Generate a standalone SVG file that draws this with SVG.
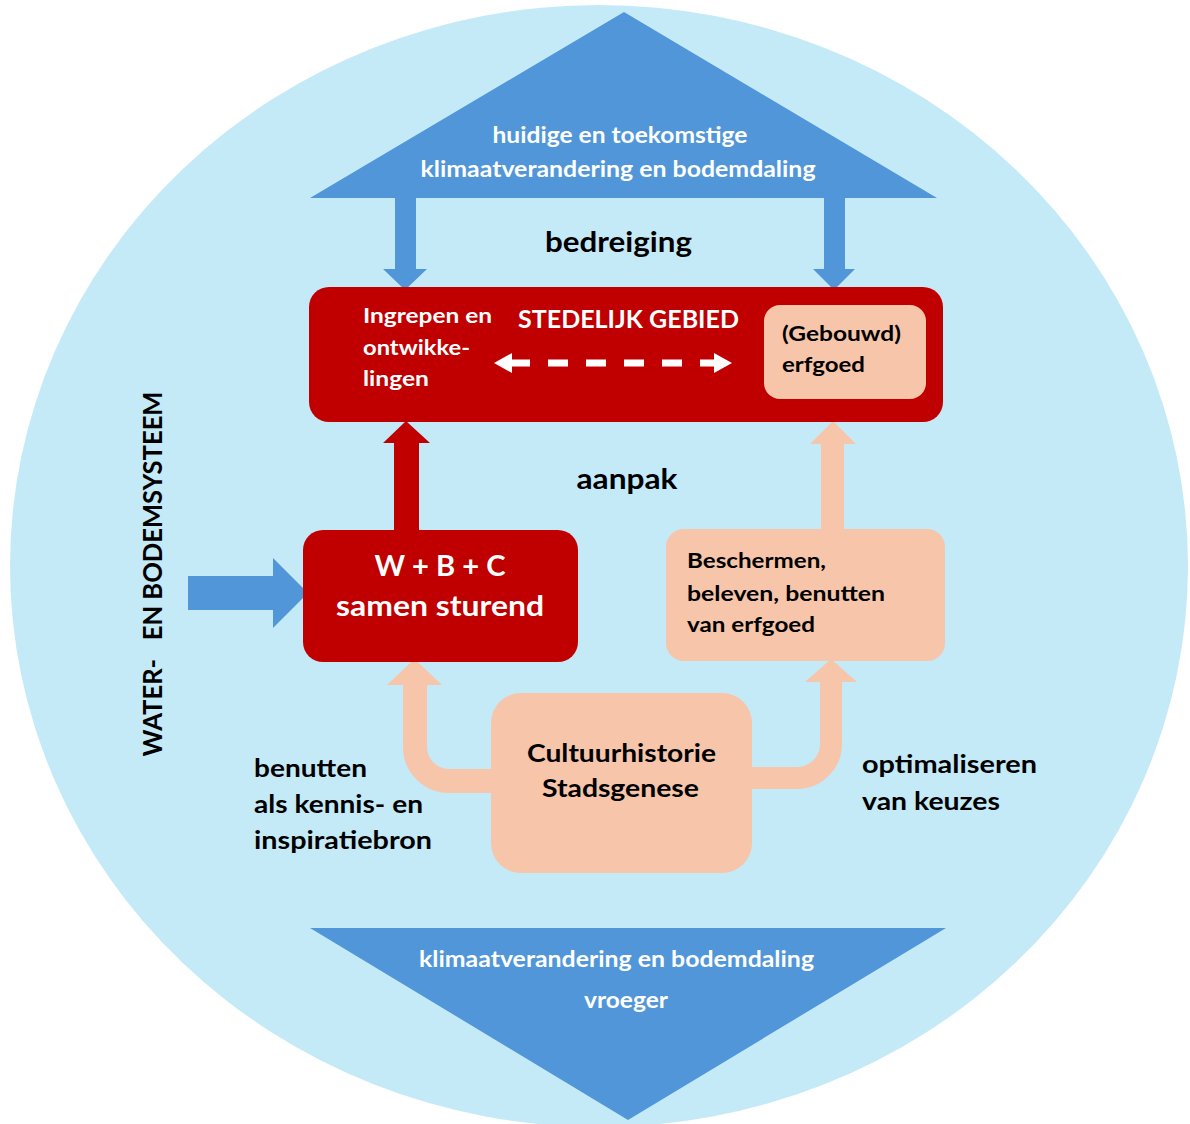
<svg xmlns="http://www.w3.org/2000/svg" width="1190" height="1124" viewBox="0 0 1190 1124">
  <style>
    text { font-family: Lato, "Liberation Sans", Arial, sans-serif; font-weight: bold; }
    .w { fill: #FFFFFF; }
    .k { fill: #000000; }
    .c { text-anchor: middle; }
    .blue { fill: #5096D9; }
    .red { fill: #C00000; }
    .peach { fill: #F6C5AA; }
  </style>
  <rect x="0" y="0" width="1190" height="1124" fill="#FFFFFF"/>
  <g id="background">
    <ellipse cx="599" cy="566" rx="589" ry="561" fill="#C4EAF8"/>
  </g>

  <g id="connectors">
    <!-- blue threat arrows -->
    <polygon class="blue" points="395,196 416,196 416,269 427,269 405,290 383,269 395,269"/>
    <polygon class="blue" points="824,196 845,196 845,269 855,269 834,290 813,269 824,269"/>
    <!-- red up arrow -->
    <polygon class="red" points="394,531 419,531 419,443 430,443 406,421 383,443 394,443"/>
    <!-- peach up arrow right -->
    <polygon class="peach" points="821,531 844,531 844,444 856,444 833,421 810,444 821,444"/>
    <!-- blue right arrow from water system -->
    <polygon class="blue" points="188,576 273,576 273,558 308,593 273,628 273,610 188,610"/>
    <!-- peach elbow arrows from Cultuurhistorie -->
    <path d="M 493 781 H 449 A 34 34 0 0 1 415 747 V 684" fill="none" stroke="#F6C5AA" stroke-width="24"/>
    <polygon class="peach" points="387,685 442,685 414.5,659"/>
    <path d="M 750 778 H 797 A 34 34 0 0 0 831 744 V 681" fill="none" stroke="#F6C5AA" stroke-width="22"/>
    <polygon class="peach" points="805,682 857,682 831,659"/>
  </g>

  <g id="threat-triangle">
    <polygon class="blue" points="310,198 624,12 937,198"/>
    <text class="w c" x="620" y="143" font-size="22" textLength="255" lengthAdjust="spacingAndGlyphs">huidige en toekomstige</text>
    <text class="w c" x="618" y="177" font-size="22" textLength="395" lengthAdjust="spacingAndGlyphs">klimaatverandering en bodemdaling</text>
  </g>

  <g id="label-bedreiging">
    <text class="k c" x="618.5" y="252" font-size="29" textLength="147" lengthAdjust="spacingAndGlyphs">bedreiging</text>
  </g>

  <g id="stedelijk-gebied">
    <rect class="red" x="309" y="287" width="634" height="135" rx="20"/>
    <text class="w" x="363" y="323" font-size="21" textLength="129" lengthAdjust="spacingAndGlyphs">Ingrepen en</text>
    <text class="w" x="363" y="355" font-size="21" textLength="107" lengthAdjust="spacingAndGlyphs">ontwikke-</text>
    <text class="w" x="363" y="386" font-size="21" textLength="66" lengthAdjust="spacingAndGlyphs">lingen</text>
    <text class="w c" x="628.5" y="328" font-size="24" textLength="221" lengthAdjust="spacingAndGlyphs">STEDELIJK GEBIED</text>
    <g id="dashed-double-arrow">
      <line x1="510" y1="363" x2="716" y2="363" stroke="#FFFFFF" stroke-width="7" stroke-dasharray="20 18"/>
      <polygon points="494,363 512,353 512,373" fill="#FFFFFF"/>
      <polygon points="732,363 714,353 714,373" fill="#FFFFFF"/>
    </g>
  </g>

  <g id="gebouwd-erfgoed">
    <rect class="peach" x="764" y="305" width="162" height="94" rx="16"/>
    <text class="k" x="782" y="341" font-size="21" textLength="119" lengthAdjust="spacingAndGlyphs">(Gebouwd)</text>
    <text class="k" x="782" y="372" font-size="21" textLength="83" lengthAdjust="spacingAndGlyphs">erfgoed</text>
  </g>

  <g id="label-aanpak">
    <text class="k c" x="627" y="489" font-size="29" textLength="101" lengthAdjust="spacingAndGlyphs">aanpak</text>
  </g>

  <g id="wbc">
    <rect class="red" x="303" y="530" width="275" height="132" rx="20"/>
    <text class="w c" x="440" y="576" font-size="28" textLength="131" lengthAdjust="spacingAndGlyphs">W + B + C</text>
    <text class="w c" x="440" y="616" font-size="29" textLength="208" lengthAdjust="spacingAndGlyphs">samen sturend</text>
  </g>

  <g id="beschermen">
    <rect class="peach" x="666" y="529" width="279" height="132" rx="18"/>
    <text class="k" x="687" y="568" font-size="21" textLength="139" lengthAdjust="spacingAndGlyphs">Beschermen,</text>
    <text class="k" x="687" y="601" font-size="21" textLength="198" lengthAdjust="spacingAndGlyphs">beleven, benutten</text>
    <text class="k" x="687" y="632" font-size="21" textLength="128" lengthAdjust="spacingAndGlyphs">van erfgoed</text>
  </g>

  <g id="water-bodemsysteem">
    <text class="k c" x="0" y="0" font-size="26" transform="translate(162,574) rotate(-90)" textLength="365" lengthAdjust="spacingAndGlyphs" xml:space="preserve">WATER-   EN BODEMSYSTEEM</text>
  </g>

  <g id="cultuurhistorie">
    <rect class="peach" x="491" y="693" width="261" height="180" rx="30"/>
    <text class="k c" x="621.5" y="762" font-size="24" textLength="189" lengthAdjust="spacingAndGlyphs">Cultuurhistorie</text>
    <text class="k c" x="620.5" y="797" font-size="24" textLength="157" lengthAdjust="spacingAndGlyphs">Stadsgenese</text>
  </g>

  <g id="label-benutten">
    <text class="k" x="254" y="777" font-size="24" textLength="113" lengthAdjust="spacingAndGlyphs">benutten</text>
    <text class="k" x="254" y="813" font-size="24" textLength="169" lengthAdjust="spacingAndGlyphs">als kennis- en</text>
    <text class="k" x="254" y="849" font-size="24" textLength="178" lengthAdjust="spacingAndGlyphs">inspiratiebron</text>
  </g>

  <g id="label-optimaliseren">
    <text class="k" x="862" y="773" font-size="24" textLength="175" lengthAdjust="spacingAndGlyphs">optimaliseren</text>
    <text class="k" x="862" y="810" font-size="24" textLength="138" lengthAdjust="spacingAndGlyphs">van keuzes</text>
  </g>

  <g id="past-triangle">
    <polygon class="blue" points="310,928 946,928 628,1120"/>
    <text class="w c" x="616.5" y="967" font-size="22" textLength="395" lengthAdjust="spacingAndGlyphs">klimaatverandering en bodemdaling</text>
    <text class="w c" x="626" y="1008" font-size="22" textLength="84" lengthAdjust="spacingAndGlyphs">vroeger</text>
  </g>
</svg>
